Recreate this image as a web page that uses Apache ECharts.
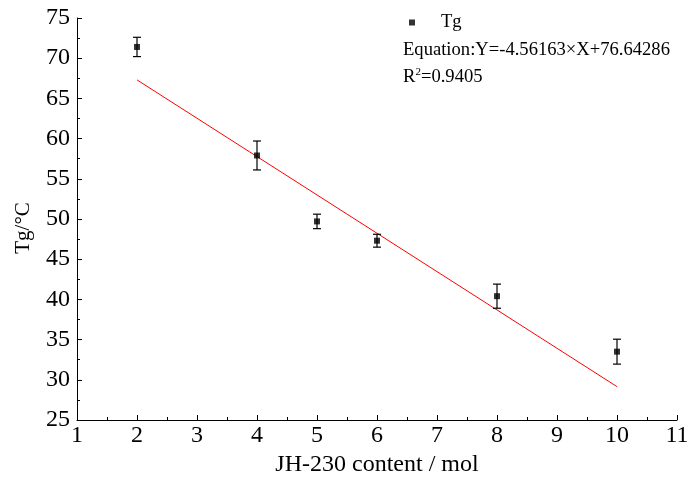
<!DOCTYPE html>
<html>
<head>
<meta charset="utf-8">
<script src="https://cdn.jsdelivr.net/npm/echarts@6/dist/echarts.min.js"></script>
<style>
  html, body { margin: 0; padding: 0; background: #fff; }
  #chart { width: 687px; height: 477px; }
</style>
</head>
<body>
<div id="chart"></div>
<script>
var content = [2, 4, 5, 6, 8, 10];
var tg = [71.4, 57.9, 49.7, 47.3, 40.4, 33.5];
var tgErr = [1.2, 1.8, 0.9, 0.8, 1.5, 1.55];
var fitX = [2, 10];
var fitY = [67.3, 29.15];
var equationText = 'Equation:Y=-4.56163\u00D7X+76.64286';
var r2Value = '0.9405';

(function () {
    var mychart = echarts.init(document.getElementById('chart'));
    var font = '"Liberation Serif", "Times New Roman", serif';

    var points = content.map(function (x, i) { return [x, tg[i]]; });
    var bars = content.map(function (x, i) { return [x, tg[i] - tgErr[i], tg[i] + tgErr[i]]; });
    var fit = fitX.map(function (x, i) { return [x, fitY[i]]; });

    var option = {
        animation: false,
        backgroundColor: '#fff',
        grid: { left: 77, right: 10, top: 18, bottom: 57, containLabel: false, outerBoundsMode: 'none' },
        legend: {
            left: 404, top: 8,
            itemWidth: 6, itemHeight: 6, itemGap: 10,
            textStyle: { fontFamily: font, fontSize: 18.6, color: '#000', padding: [0, 0, 0, 21] },
            data: [{ name: 'Tg', icon: 'rect' }]
        },
        xAxis: {
            type: 'value', min: 1, max: 11, interval: 1,
            name: 'JH-230 content / mol', nameLocation: 'middle', nameGap: 31,
            nameTextStyle: { fontFamily: font, fontSize: 24, color: '#000' },
            axisLine: { lineStyle: { color: '#000', width: 1 } },
            axisTick: { inside: true, length: 5, lineStyle: { color: '#000' } },
            minorTick: { show: true, splitNumber: 2, length: 3, lineStyle: { color: '#000' } },
            axisLabel: { fontFamily: font, fontSize: 24, color: '#000', margin: 4 },
            splitLine: { show: false }
        },
        yAxis: {
            type: 'value', min: 25, max: 75, interval: 5,
            name: 'Tg/\u00B0C', nameLocation: 'middle', nameGap: 43,
            nameTextStyle: { fontFamily: font, fontSize: 21, color: '#000', padding: [0, 18, 0, 0] },
            axisLine: { show: true, lineStyle: { color: '#000', width: 1 } },
            axisTick: { show: true, inside: true, length: 5, lineStyle: { color: '#000' } },
            minorTick: { show: true, splitNumber: 2, length: 3, lineStyle: { color: '#000' } },
            axisLabel: { fontFamily: font, fontSize: 24, color: '#000', margin: 7 },
            splitLine: { show: false }
        },
        series: [
            {
                name: 'fit', type: 'line', data: fit,
                symbol: 'none', lineStyle: { color: '#ff0000', width: 1 }, z: 1
            },
            {
                name: 'err', type: 'custom', data: bars, z: 2,
                renderItem: function (params, api) {
                    var x = api.value(0);
                    var lo = api.coord([x, api.value(1)]);
                    var hi = api.coord([x, api.value(2)]);
                    var w = 4;
                    var st = { stroke: '#000', lineWidth: 1.2 };
                    return {
                        type: 'group',
                        children: [
                            { type: 'line', shape: { x1: hi[0], y1: hi[1], x2: lo[0], y2: lo[1] }, style: st },
                            { type: 'line', shape: { x1: hi[0] - w, y1: hi[1], x2: hi[0] + w, y2: hi[1] }, style: st },
                            { type: 'line', shape: { x1: lo[0] - w, y1: lo[1], x2: lo[0] + w, y2: lo[1] }, style: st }
                        ]
                    };
                }
            },
            {
                name: 'Tg', type: 'scatter', data: points, z: 3,
                symbol: 'rect', symbolSize: 6,
                itemStyle: { color: '#000' }
            }
        ],
        graphic: [
            {
                type: 'text', left: 403, top: 41,
                style: { text: equationText, font: '18.6px ' + font, fill: '#000' }
            },
            {
                type: 'text', left: 403, top: 67,
                style: {
                    text: '{a|R}{s|2}{a|=' + r2Value + '}',
                    rich: {
                        a: { fontFamily: font, fontSize: 18.6, fill: '#000', verticalAlign: 'bottom' },
                        s: { fontFamily: font, fontSize: 11, fill: '#000', verticalAlign: 'top', padding: [0, 0, 9, 0] }
                    }
                }
            }
        ]
    };
    mychart.setOption(option);
})();
</script>
</body>
</html>
